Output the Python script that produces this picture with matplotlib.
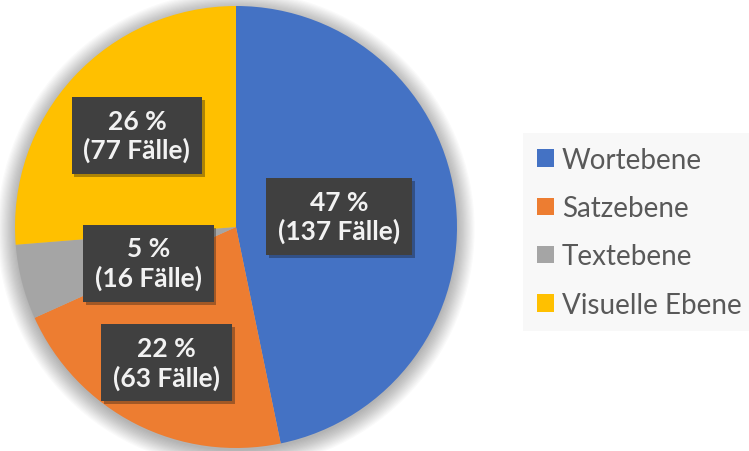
import numpy as np
import matplotlib.pyplot as plt
import matplotlib.patheffects as pe
from matplotlib.patches import Circle, Patch

categories = ["Wortebene", "Satzebene", "Textebene", "Visuelle Ebene"]
faelle = [137, 63, 16, 77]
prozent = [47, 22, 5, 26]
farben = ["#4472C4", "#ED7D31", "#A5A5A5", "#FFC000"]

plt.rcParams['font.family'] = ['Lato', 'DejaVu Sans']

W, H = 749, 452
fig = plt.figure(figsize=(W / 100, H / 100), dpi=100)

# Kreis-Achse in Pixeln: Mitte (236, 228), Radius 221
cx, cy, r = 236, 228, 221
ax = fig.add_axes([(cx - r) / W, (H - cy - r) / H, 2 * r / W, 2 * r / H])

wedges, _ = ax.pie(faelle, colors=farben, startangle=90, counterclock=False,
                   radius=1.0, wedgeprops=dict(linewidth=0))
for w in wedges:
    w.set_zorder(1)
ax.set_xlim(-1, 1)
ax.set_ylim(-1, 1)
ax.set_aspect('equal')
ax.axis('off')

# weicher Schatten
for k in np.linspace(1.0, 1.08, 16):
    ax.add_patch(Circle((0, -0.012), k, color='black', alpha=0.018, lw=0,
                        zorder=0, clip_on=False))

# Label-Abstand vom Zentrum und Winkel-Korrektur (Excel "beste Anpassung")
abstand = [0.47, 0.69, 0.43, 0.61]
dwinkel = [0, 0, 8, 0]
for w, p, n, d, dw in zip(wedges, prozent, faelle, abstand, dwinkel):
    mid = np.deg2rad((w.theta1 + w.theta2) / 2 + dw)
    t = ax.text(d * np.cos(mid), d * np.sin(mid), f"{p} %\n({n} Fälle)",
                ha='center', va='center', color='#F2F2F2', fontsize=19,
                fontweight='bold', linespacing=1.2, zorder=5,
                bbox=dict(boxstyle='square,pad=0.45', fc='#404040', ec='none'))
    t.get_bbox_patch().set_path_effects(
        [pe.SimplePatchShadow(offset=(2, -2), alpha=0.35), pe.Normal()])

handles = [Patch(facecolor=c, edgecolor='none') for c in farben]
leg = fig.legend(handles, categories, loc='upper left',
                 bbox_to_anchor=(523 / W, 1 - 134 / H), frameon=True,
                 fontsize=20, handlelength=0.6, handleheight=0.6,
                 handletextpad=0.3, labelspacing=0.8, borderpad=0.5,
                 borderaxespad=0)
leg.get_frame().set_facecolor('#F7F7F7')
leg.get_frame().set_edgecolor('none')
leg.get_frame().set_boxstyle('square', pad=0)
for t in leg.get_texts():
    t.set_color('#595959')

fig.savefig("out.png", dpi=100)
